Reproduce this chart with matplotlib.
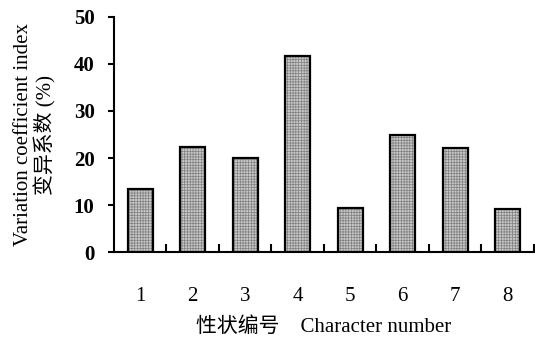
import matplotlib
matplotlib.use("Agg")
import matplotlib.pyplot as plt
import numpy as np

categories = [1, 2, 3, 4, 5, 6, 7, 8]
values = [13.4, 22.3, 20.0, 41.7, 9.4, 24.9, 22.1, 9.1]
yticks = [0, 10, 20, 30, 40, 50]

plt.rcParams['font.family'] = ['Liberation Serif', 'Noto Sans CJK SC']
plt.rcParams['hatch.linewidth'] = 0.5

fig = plt.figure(figsize=(5.35, 3.38), dpi=100)
ax = fig.add_axes([0.213, 0.254, 0.785, 0.696])

x = np.array(categories)
ax.bar(x, values, width=0.48, color='#c8c8c8', edgecolor='#808080', hatch='++++++', linewidth=0, zorder=2)
ax.bar(x, values, width=0.48, fill=False, edgecolor='black', linewidth=1.6, zorder=3)

ax.set_xlim(0.5, 8.5)
ax.set_ylim(0, 50)
ax.set_yticks(yticks)
ax.set_xticks(categories)
ax.set_xticks(np.arange(1.5, 9.0, 1.0), minor=True)

for s in ['top', 'right']:
    ax.spines[s].set_visible(False)
for s in ['left', 'bottom']:
    ax.spines[s].set_linewidth(1.5)

ax.tick_params(axis='y', direction='out', length=4, width=1.5, labelsize=15, pad=10)
ax.tick_params(axis='x', which='major', length=0, labelsize=15, pad=25)
ax.tick_params(axis='x', which='minor', direction='in', length=6, width=1.5)
for lab in ax.get_yticklabels():
    lab.set_fontweight('bold')

ax.set_ylabel('Variation coefficient index\n变异系数 (%)', fontsize=15, labelpad=12, linespacing=1.1)
ax.set_xlabel('性状编号    Character number', fontsize=15, labelpad=8)

fig.savefig('out.png', dpi=100)
